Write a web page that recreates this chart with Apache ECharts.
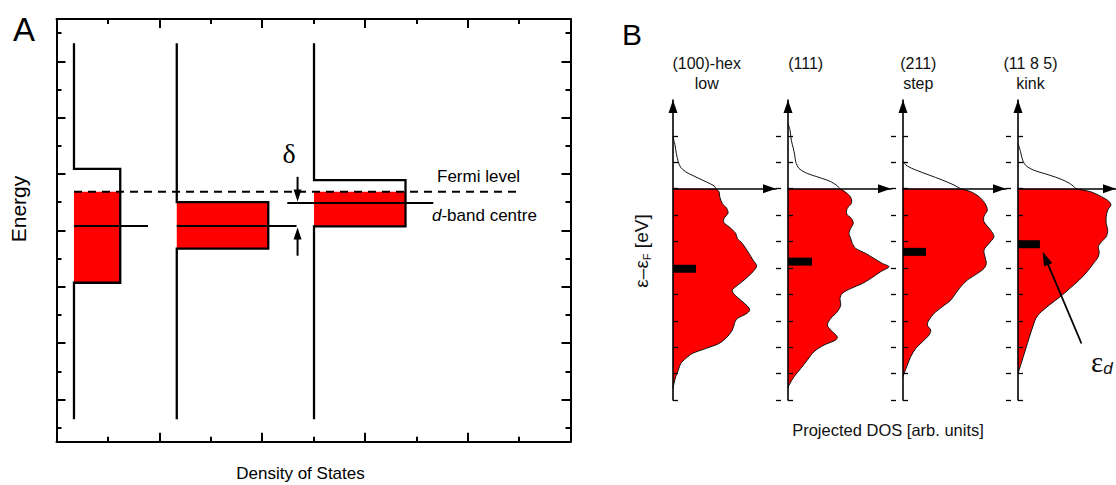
<!DOCTYPE html>
<html><head><meta charset="utf-8">
<script src="https://cdn.jsdelivr.net/npm/echarts@6.0.0/dist/echarts.min.js"></script>
<style>html,body{margin:0;padding:0;background:#fff}#c{width:1116px;height:485px}</style>
</head><body><div id="c"></div>
<script>
// ---------- Panel A: schematic DOS (arbitrary units) ----------
const bandLeft   = [0.34, 2.34, 5.01];
const bandRight  = [1.24, 4.12, 6.79];
const bandTop    = [9.68, 8.50, 9.28];
const bandBottom = [5.64, 6.85, 7.64];
const bandCentre = [7.65, 7.65, 8.47];
const centreStart = [0.34, 2.34, 4.49];
const centreEnd   = [1.78, 4.67, 7.33];
const stateTop = 14.14, stateBottom = 0.80;
const fermiA = 8.87, fermiStart = 0.34, fermiEnd = 9.0;
const deltaX = 4.69;
const deltaDown = [9.40, 8.52];
const deltaUp = [6.60, 7.60];
const majorTicksA = [1.5, 3.5, 5.5, 7.5, 9.5, 11.5, 13.5];
const minorTicksA = [0.5, 2.5, 4.5, 6.5, 8.5, 10.5, 12.5, 14.5];

// ---------- Panel B: projected DOS [dos, energy eV] ----------
const surfaces = ['(100)-hex', '(111)', '(211)', '(11 8 5)'];
const surfaceKind = ['low', '', 'step', 'kink'];
const energyTicksB = [-8, -7, -6, -5, -4, -3, -2, -1, 0, 1, 2];
const hexEmpty = [[0,1.97],[2,1.65],[3.3,1.34],[5.3,1.02],[7.7,0.81],[12.7,0.64],[21,0.48],[29.3,0.33],[37.7,0.18],[42,0.08],[42.7,0]];
const hexFilled = [[42.7,0],[46,-0.11],[46.7,-0.30],[49.3,-0.56],[53.7,-0.74],[55,-0.93],[51,-1.12],[51,-1.29],[56,-1.44],[62.7,-1.69],[64.3,-1.88],[69.3,-2.07],[76,-2.45],[80,-2.70],[83.7,-2.92],[80,-3.14],[71,-3.46],[62.7,-3.71],[59.3,-3.84],[61,-3.99],[67.7,-4.22],[74.3,-4.44],[76.7,-4.60],[72.7,-4.75],[64.3,-4.91],[62,-5.04],[61,-5.16],[59.3,-5.35],[54.3,-5.61],[46,-5.86],[32.7,-6.05],[19.3,-6.24],[12.7,-6.43],[7.7,-6.62],[5.3,-6.87],[2.7,-7.12],[1,-7.37],[0,-7.56]];
const f111Empty = [[0,2.47],[2,2.22],[3.3,1.84],[5.3,1.53],[6.7,1.28],[7.7,1.02],[11,0.77],[19.3,0.58],[31,0.43],[42.7,0.27],[49.3,0.11],[52,0]];
const f111Filled = [[52,0],[59.3,-0.18],[63.3,-0.37],[63.3,-0.56],[59.3,-0.74],[58.7,-0.96],[63.3,-1.12],[65.3,-1.31],[62.7,-1.50],[61,-1.69],[62.7,-1.88],[64.3,-2.07],[67.7,-2.26],[77.7,-2.45],[86,-2.64],[94.3,-2.83],[101,-2.95],[92.7,-3.14],[82.7,-3.40],[74.3,-3.59],[62.7,-3.78],[54.3,-3.96],[52,-4.15],[52.7,-4.41],[49.3,-4.66],[42.7,-4.91],[39.3,-5.16],[42.7,-5.35],[49.3,-5.61],[47.7,-5.73],[36,-5.92],[26,-6.17],[19.3,-6.49],[12.7,-6.81],[6,-7.12],[1,-7.44],[0,-7.56]];
const f211Empty = [[0,1.02],[4.3,0.86],[12.7,0.71],[26,0.52],[39.3,0.33],[51,0.14],[57.7,0]];
const f211Filled = [[57.7,0],[67.7,-0.11],[76,-0.30],[82,-0.56],[84.3,-0.81],[81,-1.04],[81,-1.25],[87.7,-1.57],[91,-1.82],[86,-2.07],[81,-2.32],[82,-2.58],[83.3,-2.83],[81,-3.02],[74.3,-3.21],[64.3,-3.46],[57.7,-3.71],[52.7,-3.96],[47.7,-4.22],[39.3,-4.47],[31,-4.72],[26,-4.97],[24.3,-5.16],[27.7,-5.35],[26,-5.54],[19.3,-5.80],[12.7,-6.05],[7.7,-6.36],[4.3,-6.68],[1,-7.00],[0,-7.12]];
const f1185Empty = [[0,1.72],[2.7,1.40],[4.3,1.15],[7.7,0.90],[16,0.71],[32.7,0.52],[46,0.35],[54.3,0.20],[58.7,0.08],[61,0]];
const f1185Filled = [[61,0],[76,-0.11],[87.7,-0.30],[96,-0.49],[97.7,-0.62],[94.3,-0.81],[92.7,-1.06],[92.7,-1.31],[94.3,-1.57],[92.7,-1.82],[87.7,-2.01],[84.3,-2.20],[85.3,-2.39],[84.3,-2.58],[79.3,-2.83],[72.7,-3.14],[64.3,-3.46],[54.3,-3.78],[44.3,-4.09],[32.7,-4.41],[22.7,-4.72],[18.7,-4.91],[16.7,-5.10],[12,-5.61],[7.7,-6.11],[3.3,-6.62],[0,-7.00]];
const dBandWidth = [23, 24, 23, 23];
const dBandEnergy = [-3.03, -2.76, -2.39, -2.10];
const epsArrow = [66.7, -5.86, 26, -2.39];

const dosEmpty = [hexEmpty, f111Empty, f211Empty, f1185Empty];
const dosFilled = [hexFilled, f111Filled, f211Filled, f1185Filled];

const SANS = '"Liberation Sans", Arial, Helvetica, sans-serif';
const SERIF = '"Liberation Serif", "Times New Roman", serif';
const BLK = '#000';

function arrowShape(api, from, to, headLen, headW, lw) {
  const a = api.coord(from), b = api.coord(to);
  const dx = b[0]-a[0], dy = b[1]-a[1], L = Math.hypot(dx, dy);
  const ux = dx/L, uy = dy/L, nx = -uy, ny = ux;
  const base = [b[0]-ux*headLen, b[1]-uy*headLen];
  return {type:'group', children:[
    {type:'line', shape:{x1:a[0], y1:a[1], x2:base[0]+ux*2, y2:base[1]+uy*2}, style:{stroke:BLK, lineWidth:lw}},
    {type:'polygon', shape:{points:[b, [base[0]+nx*headW/2, base[1]+ny*headW/2], [base[0]-nx*headW/2, base[1]-ny*headW/2]]}, style:{fill:BLK}}
  ]};
}

function txt(x, y, text, font, extra) {
  const st = Object.assign({text:text, font:font, fill:'#111', align:'center', verticalAlign:'middle', textAlign:'center', textVerticalAlign:'middle'}, extra || {});
  return {type:'text', x:x, y:y, z:100, style:st};
}

const tickLine = {color:BLK, width:2};
const noSplit = {show:false};

const grids = [{left:56.5, top:19, width:514, height:422.7}];
const xAxes = [
  {gridIndex:0, type:'value', position:'bottom', min:0, max:10, interval:2,
   axisLine:{show:true, onZero:false, lineStyle:{color:BLK, width:2}},
   axisTick:{show:true, inside:true, length:9, lineStyle:tickLine},
   minorTick:{show:true, splitNumber:2, length:5, lineStyle:tickLine},
   axisLabel:{show:false}, splitLine:noSplit, minorSplitLine:noSplit},
  {gridIndex:0, type:'value', position:'top', min:0, max:10, interval:2,
   axisLine:{show:true, onZero:false, lineStyle:{color:BLK, width:2}},
   axisTick:{show:true, inside:true, length:9, lineStyle:tickLine},
   minorTick:{show:true, splitNumber:2, length:5, lineStyle:tickLine},
   axisLabel:{show:false}, splitLine:noSplit, minorSplitLine:noSplit}
];
const yAxes = [];
['left','right'].forEach(function(pos){
  yAxes.push({gridIndex:0, type:'value', position:pos, min:0, max:15,
    axisLine:{show:true, onZero:false, lineStyle:{color:BLK, width:2}},
    axisTick:{show:true, inside:true, length:9, customValues:majorTicksA, lineStyle:tickLine},
    axisLabel:{show:false}, splitLine:noSplit});
  yAxes.push({gridIndex:0, type:'value', position:pos, min:0, max:15,
    axisLine:{show:false, onZero:false},
    axisTick:{show:true, inside:true, length:5, customValues:minorTicksA, lineStyle:tickLine},
    axisLabel:{show:false}, splitLine:noSplit});
});

const bLeft = [673, 788, 903, 1018];
surfaces.forEach(function(s, k){
  grids.push({left:bLeft[k], top:100, width:103, height:300});
  xAxes.push({gridIndex:1+k, type:'value', min:0, max:103, z:5,
    axisLine:{show:true, onZero:true, symbol:['none','triangle'], symbolSize:[9,13], symbolOffset:[0,-6.5], lineStyle:{color:BLK, width:1.6}},
    axisTick:{show:false}, axisLabel:{show:false}, splitLine:noSplit});
  yAxes.push({gridIndex:1+k, type:'value', min:-8, max:3.36, z:5,
    axisLine:{show:true, onZero:false, symbol:['none','triangle'], symbolSize:[9,13], symbolOffset:[0,-6.5], lineStyle:{color:BLK, width:1.6}},
    axisTick:{show:true, inside:true, length:5, customValues:energyTicksB, lineStyle:{color:BLK, width:1.3}},
    axisLabel:{show:false}, splitLine:noSplit});
  yAxes.push({gridIndex:1+k, type:'value', min:-8, max:3.36, z:5,
    axisLine:{show:false, onZero:false},
    axisTick:{show:true, inside:false, length:5, customValues:energyTicksB, lineStyle:{color:BLK, width:1.3}},
    axisLabel:{show:false}, splitLine:noSplit});
});

const series = [];
// red filled part of the bands (below Fermi level)
series.push({type:'custom', name:'occupied', xAxisIndex:0, yAxisIndex:0, z:1, silent:true,
  data: bandLeft.map(function(l,i){ return [l, Math.min(bandTop[i], fermiA), bandRight[i], bandBottom[i]]; }),
  encode:{x:[0,2], y:[1,3]},
  renderItem:function(p, api){
    const a = api.coord([api.value(0), api.value(1)]), b = api.coord([api.value(2), api.value(3)]);
    return {type:'rect', shape:{x:a[0], y:a[1], width:b[0]-a[0], height:b[1]-a[1]}, style:{fill:'#ff0000'}};
  }});
bandLeft.forEach(function(l, i){
  series.push({type:'line', name:'DOS '+(i+1), xAxisIndex:0, yAxisIndex:0, z:3, silent:true, symbol:'none', showSymbol:false,
    data:[[l,stateTop],[l,bandTop[i]],[bandRight[i],bandTop[i]],[bandRight[i],bandBottom[i]],[l,bandBottom[i]],[l,stateBottom]],
    lineStyle:{color:BLK, width:2.3, join:'miter'}});
  series.push({type:'line', name:'d-band centre '+(i+1), xAxisIndex:0, yAxisIndex:0, z:4, silent:true, symbol:'none', showSymbol:false,
    data:[[centreStart[i], bandCentre[i]], [centreEnd[i], bandCentre[i]]],
    lineStyle:{color:BLK, width:2}});
});
series.push({type:'line', name:'Fermi level', xAxisIndex:0, yAxisIndex:0, z:4, silent:true, symbol:'none', showSymbol:false,
  data:[[fermiStart, fermiA],[fermiEnd, fermiA]], lineStyle:{color:BLK, width:2, type:[8,6]}});
series.push({type:'custom', name:'delta', xAxisIndex:0, yAxisIndex:0, z:5, silent:true,
  data:[[deltaX, deltaDown[0], deltaX, deltaDown[1]], [deltaX, deltaUp[0], deltaX, deltaUp[1]]],
  encode:{x:[0,2], y:[1,3]},
  renderItem:function(p, api){ return arrowShape(api, [api.value(0), api.value(1)], [api.value(2), api.value(3)], 12, 8, 2); }});

surfaces.forEach(function(s, k){
  const xi = 2+k, yi = 4+2*k;
  const filled = dosFilled[k];
  const outline = dosEmpty[k].concat(filled.slice(1));
  series.push({type:'custom', name:s+' occupied', xAxisIndex:xi, yAxisIndex:yi, z:2, silent:true, data:filled,
    renderItem:function(p, api){
      if (p.dataIndex !== 0) return null;
      const pts = [[0,0],[0,0]].concat(filled, [filled[filled.length-1]]).map(function(v){ return api.coord(v); });
      return {type:'polygon', shape:{points:pts, smooth:0.3, smoothConstraint:[pts[2], pts[2]]}, style:{fill:'#ff0000'}};
    }});
  series.push({type:'custom', name:s+' DOS', xAxisIndex:xi, yAxisIndex:yi, z:3, silent:true, data:outline,
    renderItem:function(p, api){
      if (p.dataIndex !== 0) return null;
      const pts = outline.map(function(v){ return api.coord(v); });
      return {type:'polyline', shape:{points:pts, smooth:0.3, smoothConstraint:[pts[0], pts[0]]}, style:{stroke:'#111', lineWidth:1, fill:'none'}};
    }});
  series.push({type:'custom', name:s+' d-band centre', xAxisIndex:xi, yAxisIndex:yi, z:6, silent:true,
    data:[[dBandWidth[k], dBandEnergy[k]]],
    renderItem:function(p, api){
      const a = api.coord([0, api.value(1)]), b = api.coord([api.value(0), api.value(1)]);
      return {type:'rect', shape:{x:a[0], y:a[1]-4, width:b[0]-a[0], height:8}, style:{fill:BLK}};
    }});
});
series.push({type:'custom', name:'eps_d arrow', xAxisIndex:5, yAxisIndex:10, z:7, silent:true,
  data:[epsArrow], encode:{x:[0,2], y:[1,3]},
  renderItem:function(p, api){ return arrowShape(api, [api.value(0), api.value(1)], [api.value(2), api.value(3)], 14, 9, 1.8); }});

const titleX = [706.7, 805.7, 918.3, 1030.5];
const graphics = [
  txt(24, 29, 'A', '33px '+SANS, {fill:'#000'}),
  txt(632, 34, 'B', '30px '+SANS, {fill:'#000'}),
  txt(289, 153, 'δ', '28px '+SERIF, {fill:'#000'}),
  txt(437, 176, 'Fermi level', '17px '+SANS, {align:'left', textAlign:'left', fill:'#000'}),
  txt(432, 215, '{i|d}-band centre', '17px '+SANS, {align:'left', textAlign:'left', fill:'#000',
      rich:{i:{fontStyle:'italic', fontSize:17, fontFamily:SANS, fill:'#000'}}}),
  txt(300.5, 473, 'Density of States', '17px '+SANS, {fill:'#000'}),
  Object.assign(txt(18.5, 209, 'Energy', '21px '+SANS, {fill:'#000'}), {rotation:Math.PI/2}),
  txt(888, 430, 'Projected DOS [arb. units]', '16.5px '+SANS),
  Object.assign(txt(641.5, 251, '{n|ε–ε}{s|F}{n| [eV]}', '19px '+SANS, {
      rich:{n:{fontSize:19, fontFamily:SANS, fill:'#111', lineHeight:22}, s:{fontSize:11, fontFamily:SANS, fill:'#111', verticalAlign:'bottom', lineHeight:22}}}), {rotation:Math.PI/2}),
  txt(1091, 362, '{e|ε}{d|d}', '26px '+SERIF, {align:'left', textAlign:'left',
      rich:{e:{fontSize:29, fontFamily:SERIF, fill:'#111', lineHeight:30}, d:{fontSize:17, fontFamily:SANS, fontStyle:'italic', fill:'#111', verticalAlign:'bottom', lineHeight:30}}})
];
surfaces.forEach(function(s, k){
  graphics.push(txt(titleX[k], 63, s, '16px '+SANS));
  if (surfaceKind[k]) graphics.push(txt(titleX[k], 83, surfaceKind[k], '16px '+SANS));
});

const chart = echarts.init(document.getElementById('c'), null, {renderer:'svg', width:1116, height:485});
chart.setOption({
  animation:false,
  backgroundColor:'#fff',
  grid:grids, xAxis:xAxes, yAxis:yAxes, series:series, graphic:graphics
});
</script></body></html>
